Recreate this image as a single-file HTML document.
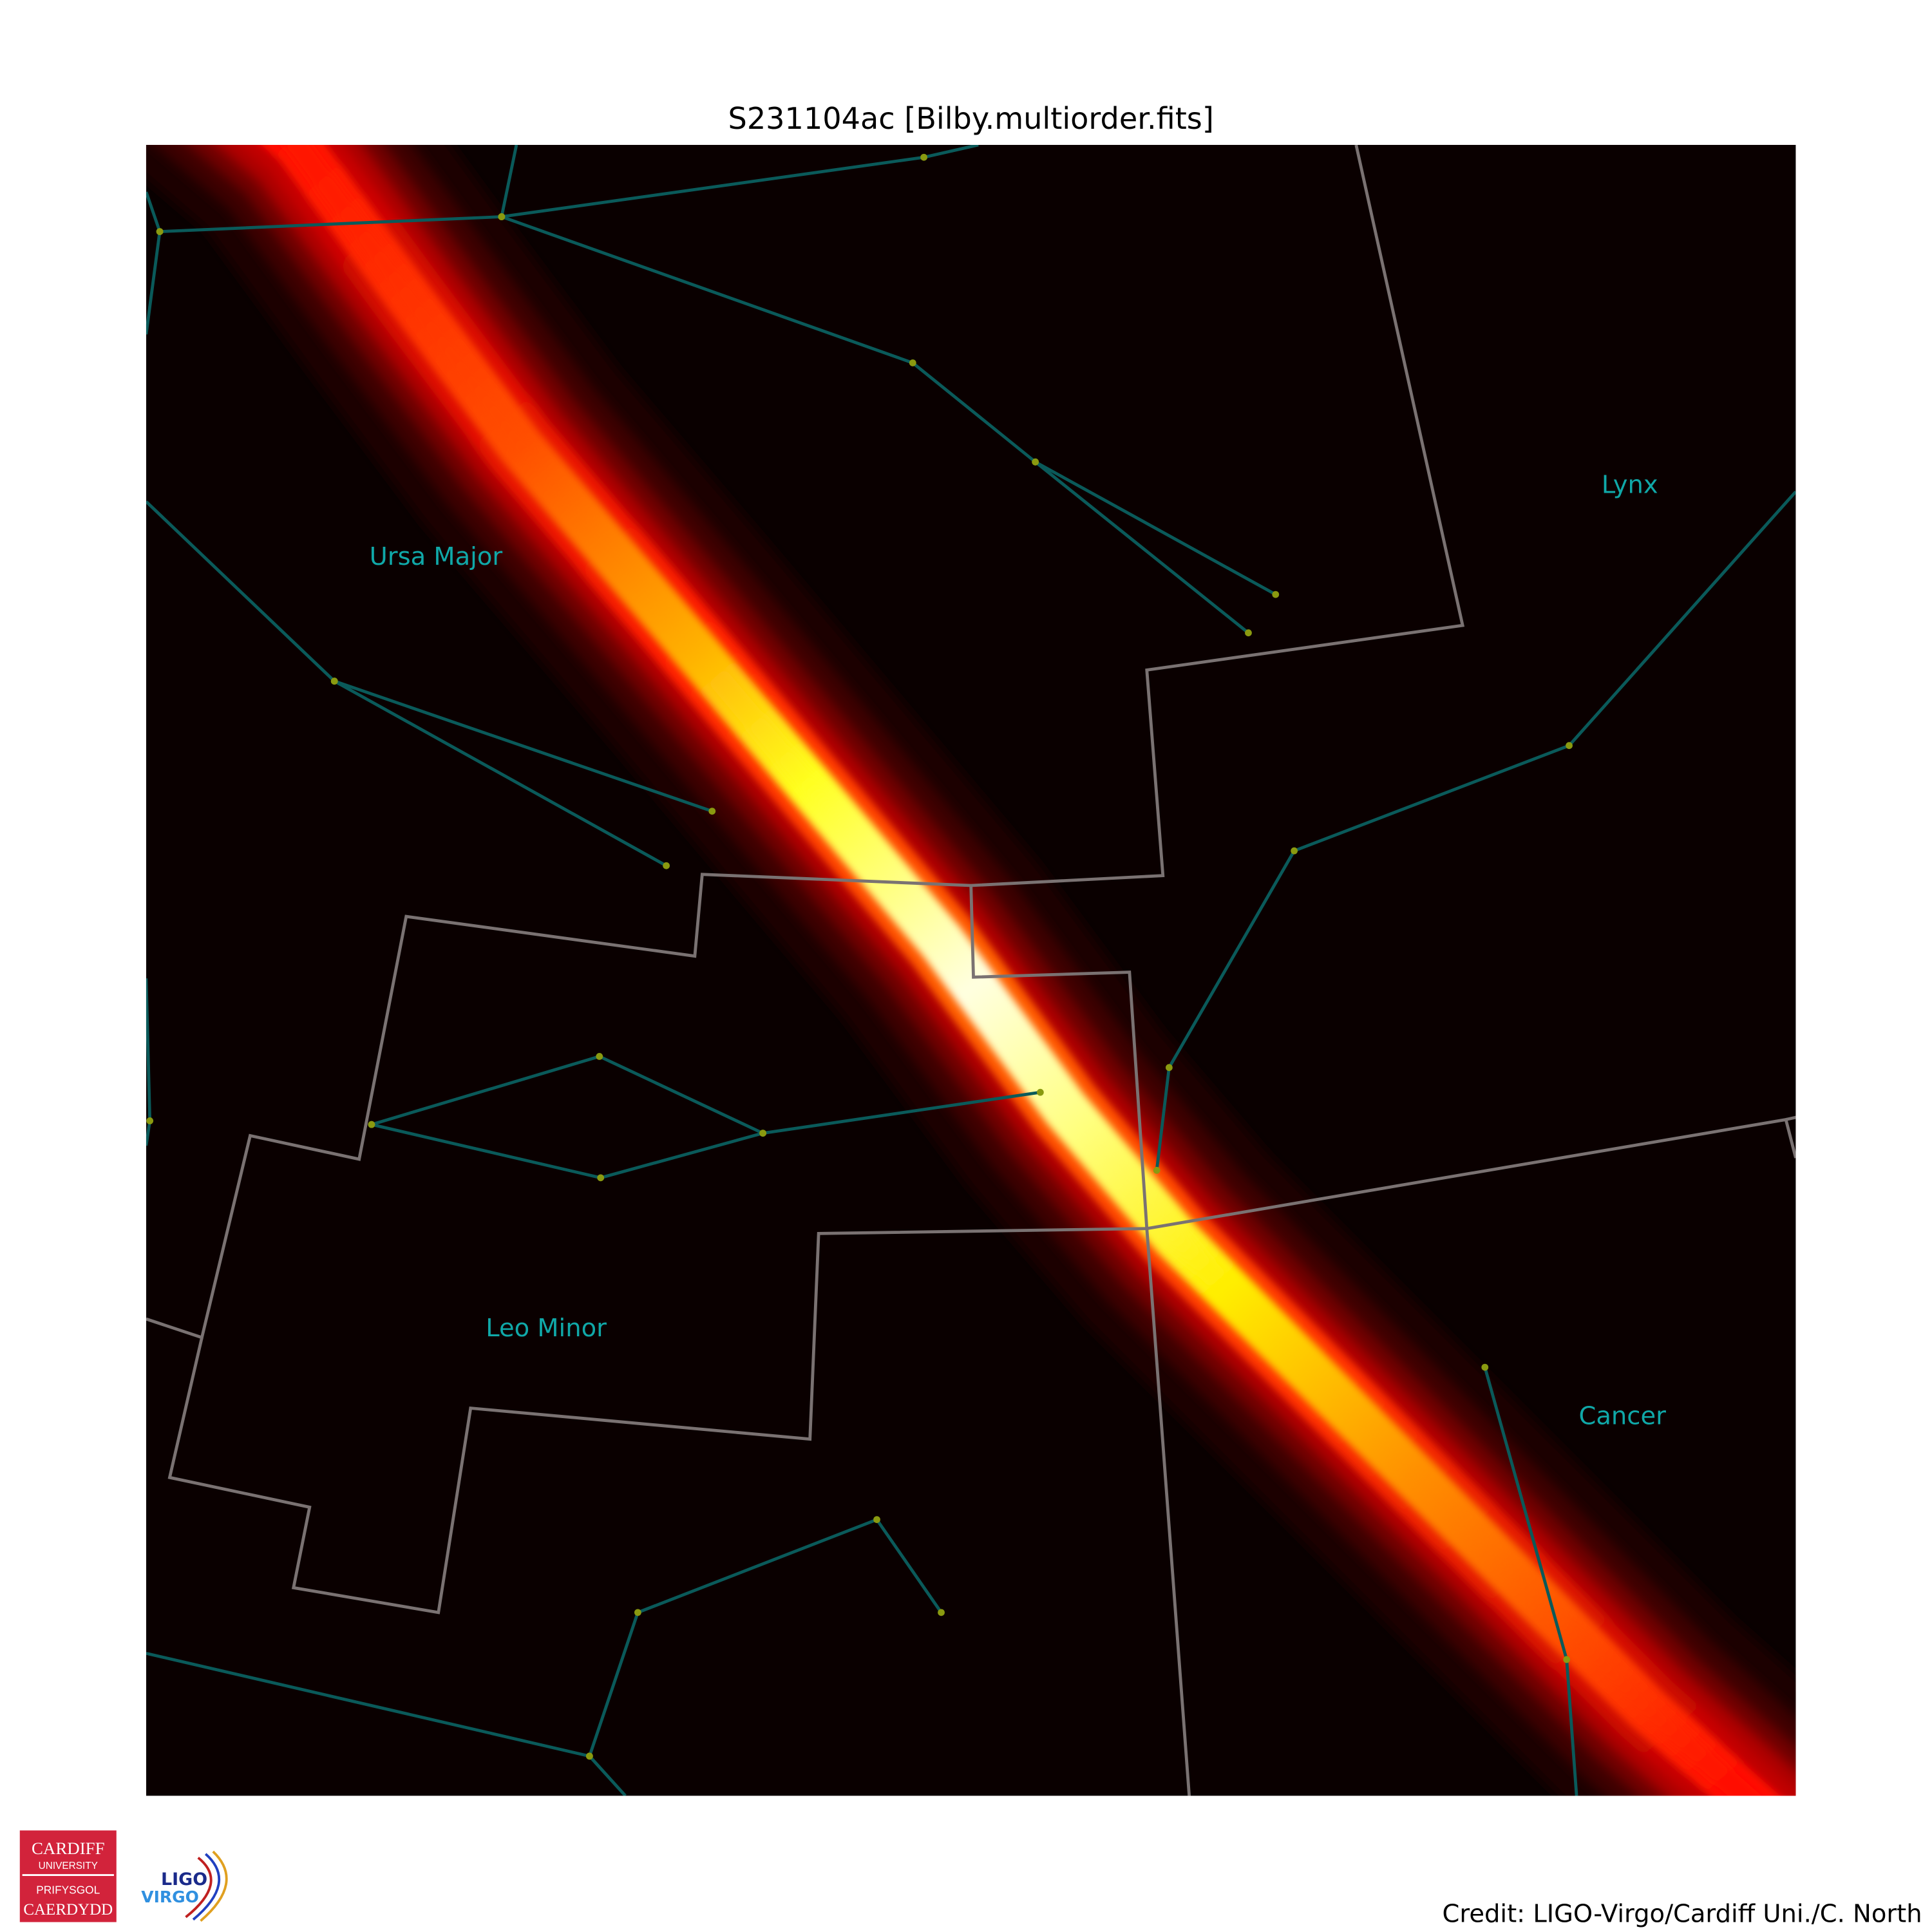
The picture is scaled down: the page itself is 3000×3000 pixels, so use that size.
<!DOCTYPE html>
<html><head><meta charset="utf-8"><style>
html,body{margin:0;padding:0;background:#fff;}
svg{display:block;}
</style></head><body>
<svg id="chart" width="3000" height="3000" viewBox="0 0 1560 1560" xmlns="http://www.w3.org/2000/svg" font-family="'DejaVu Sans','Liberation Sans',sans-serif">
<defs>
<clipPath id="plotclip"><rect x="118" y="117" width="1332" height="1333"/></clipPath>
<filter id="blur" x="-20%" y="-20%" width="140%" height="140%"><feGaussianBlur stdDeviation="5"/></filter>
<filter id="blur2" x="-20%" y="-20%" width="140%" height="140%"><feGaussianBlur stdDeviation="3"/></filter>
<linearGradient id="coreGrad" gradientUnits="userSpaceOnUse" x1="220" y1="117" x2="1380" y2="1450">
<stop offset="0" stop-color="#ff1000"/>
<stop offset="0.18" stop-color="#ff5000"/>
<stop offset="0.3" stop-color="#ffb000"/>
<stop offset="0.38" stop-color="#ffff20"/>
<stop offset="0.5" stop-color="#ffffe0"/>
<stop offset="0.58" stop-color="#ffff80"/>
<stop offset="0.68" stop-color="#ffee00"/>
<stop offset="0.8" stop-color="#ff9000"/>
<stop offset="1" stop-color="#ff1000"/>
</linearGradient>
<linearGradient id="midGrad" gradientUnits="userSpaceOnUse" x1="220" y1="117" x2="1380" y2="1450">
<stop offset="0" stop-color="#c00000"/>
<stop offset="0.3" stop-color="#ff2000"/>
<stop offset="0.5" stop-color="#ff6000"/>
<stop offset="0.75" stop-color="#ff3000"/>
<stop offset="1" stop-color="#c00000"/>
</linearGradient>
</defs>
<rect x="0" y="0" width="1560" height="1560" fill="#ffffff"/>
<text x="784" y="104" font-size="24" text-anchor="middle" fill="#000">S231104ac [Bilby.multiorder.fits]</text>
<g id="plot" clip-path="url(#plotclip)">
<rect x="118" y="117" width="1332" height="1333" fill="#0a0000"/>
<g id="band"></g>
<g id="bounds"></g>
<g id="lines"></g>
<g id="labels"></g>
</g>
<text x="1552" y="1552" font-size="20" text-anchor="end" fill="#000">Credit: LIGO-Virgo/Cardiff Uni./C. North</text>
<g>
<rect x="16" y="1478" width="78" height="74" fill="#d2233b"/>
<line x1="18" y1="1514" x2="92" y2="1514" stroke="#fff" stroke-width="1.5"/>
<text x="55" y="1497" font-size="14" font-family="'Liberation Serif',serif" fill="#fff" text-anchor="middle">CARDIFF</text>
<text x="55" y="1509" font-size="8" font-family="'Liberation Sans',sans-serif" fill="#fff" text-anchor="middle">UNIVERSITY</text>
<text x="55" y="1529" font-size="9" font-family="'Liberation Sans',sans-serif" fill="#fff" text-anchor="middle">PRIFYSGOL</text>
<text x="55" y="1546" font-size="13" font-family="'Liberation Serif',serif" fill="#fff" text-anchor="middle">CAERDYDD</text>
</g>
<g>
<path d="M160 1500 Q185 1520 150 1548" fill="none" stroke="#c02020" stroke-width="2"/>
<path d="M166 1497 Q192 1520 156 1550" fill="none" stroke="#2040c0" stroke-width="2"/>
<path d="M172 1495 Q198 1520 162 1551" fill="none" stroke="#e0a020" stroke-width="2"/>
<text x="130" y="1522" font-size="14" font-weight="bold" fill="#1a2a8a">LIGO</text>
<text x="114" y="1536" font-size="13" font-weight="bold" fill="#3090e0">VIRGO</text>
</g>
<script>
const bandX = [150, 240, 330, 420, 540, 650, 760, 860, 950, 1050, 1150, 1250, 1330, 1420, 1480];
const bandY = [40, 117, 240, 360, 500, 630, 760, 895, 1000, 1100, 1200, 1300, 1380, 1460, 1510];
const boundaryPaths = [
 [[1095,117],[1181,505],[926,541],[939,707],[784,715],[567,706],[561,772],[328,740],[290,936],[202,917],[163,1080],[118,1065]],
 [[163,1080],[137,1193],[250,1217],[237,1282],[354,1302],[380,1137],[654,1162],[661,996],[926,992],[1442,904],[1450,935]],
 [[1442,904],[1460,900]],
 [[784,715],[786,789],[912,785],[926,992],[961,1460]]
];
const starLines = [
 [[118,270],[129,187],[405,175],[746,127],[790,117]],
 [[129,187],[118,155]],
 [[405,175],[417,117]],
 [[405,175],[737,293],[836,373],[1030,480]],
 [[836,373],[1008,511]],
 [[118,405],[270,550],[575,655]],
 [[270,550],[538,699]],
 [[1450,397],[1267,602],[1045,687],[944,862],[934,945]],
 [[300,908],[484,853],[616,915],[840,882]],
 [[300,908],[485,951],[616,915]],
 [[118,790],[121,905],[118,925]],
 [[1199,1104],[1265,1340],[1273,1450]],
 [[760,1302],[708,1227],[515,1302],[476,1418],[505,1450]],
 [[118,1335],[476,1418]]
];
const labelNames = ["Ursa Major","Lynx","Leo Minor","Cancer"];
const labelX = [352,1316,441,1310];
const labelY = [456,398,1079,1150];
const NS='http://www.w3.org/2000/svg';
function pts(a){return a.map(p=>p.join(',')).join(' ');}
const bandPts = bandX.map((x,i)=>x+','+bandY[i]).join(' ');
const layers = [
 {w:200,c:'#1c0000',f:'blur'},{w:150,c:'#3c0000',f:'blur'},{w:115,c:'#700000',f:'blur'},
 {w:85,c:'#b00000',f:'blur'},{w:60,c:'url(#midGrad)',f:'blur2'},{w:38,c:'url(#coreGrad)',f:'blur2'},{w:18,c:'url(#coreGrad)',f:'blur2'}
];
const band=document.getElementById('band');
layers.forEach((L,i)=>{
 const p=document.createElementNS(NS,'polyline');
 
 
 p.setAttribute('points',bandPts);
 p.setAttribute('fill','none');p.setAttribute('stroke',L.c);
 p.setAttribute('stroke-width',L.w);p.setAttribute('stroke-linejoin','round');
 p.setAttribute('filter','url(#'+L.f+')');
 band.appendChild(p);
});
const bounds=document.getElementById('bounds');
boundaryPaths.forEach(b=>{
 const p=document.createElementNS(NS,'polyline');
 
 
 p.setAttribute('points',pts(b));p.setAttribute('fill','none');
 p.setAttribute('stroke','#7a7272');p.setAttribute('stroke-width','2.5');
 bounds.appendChild(p);
});
const lines=document.getElementById('lines');
starLines.forEach(s=>{
 const p=document.createElementNS(NS,'polyline');
 
 
 p.setAttribute('points',pts(s));p.setAttribute('fill','none');
 p.setAttribute('stroke','#0a5a5a');p.setAttribute('stroke-width','2.5');
 lines.appendChild(p);
});
starLines.forEach(s=>{
 s.forEach(q=>{
  if(q[0]<=118||q[0]>=1450||q[1]<=117||q[1]>=1450)return;
  const c=document.createElementNS(NS,'circle');
  
  
  c.setAttribute('cx',q[0]);c.setAttribute('cy',q[1]);c.setAttribute('r','2.8');
  c.setAttribute('fill','#8a9a10');
  lines.appendChild(c);
 });
});
const labels=document.getElementById('labels');
labelNames.forEach((n,i)=>{
 const t=document.createElementNS(NS,'text');
 
 
 t.setAttribute('x',labelX[i]);t.setAttribute('y',labelY[i]);
 t.setAttribute('font-size','20');t.setAttribute('text-anchor','middle');
 t.setAttribute('fill','#10a8a8');
 t.textContent=n;
 labels.appendChild(t);
});
</script>
</svg>
</body></html>
